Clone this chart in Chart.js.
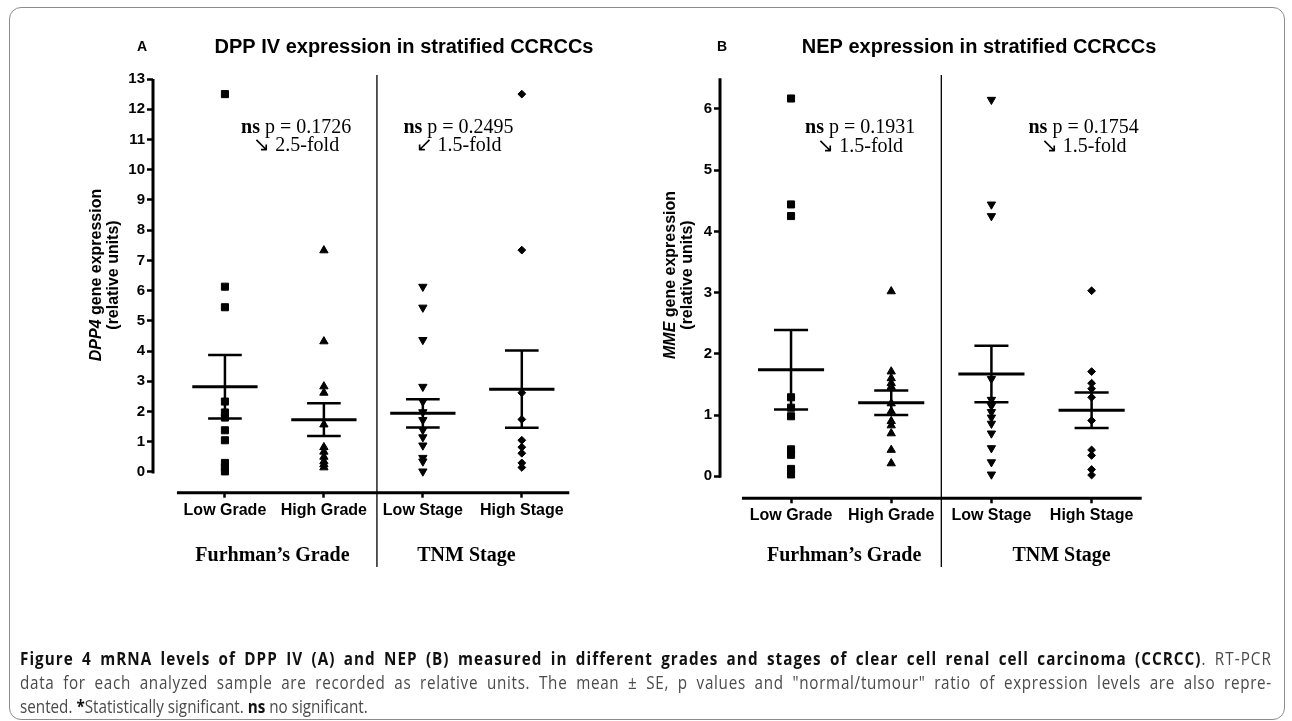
<!DOCTYPE html>
<html>
<head>
<meta charset="utf-8">
<script src="https://cdn.jsdelivr.net/npm/chart.js@4.4.1/dist/chart.umd.min.js"></script>
<style>
  body { margin: 0; background: #fff; }
  #wrap { position: relative; width: 1292px; height: 721px; overflow: hidden; }
  canvas { position: absolute; left: 0; top: 0; }
  #frame { position: absolute; left: 9px; top: 7px; width: 1274px; height: 711px;
           border: 1px solid #8c8c8c; border-radius: 12px; }
  /* condensed look of the journal caption font */
  #caption { position: absolute; left: 20px; top: 646px; width: 1439px;
             transform: scaleX(0.87); transform-origin: 0 0;
             font-family: "Open Sans", sans-serif; font-size: 17.5px;
             line-height: 24px; color: #4a4a4a; }
  #caption div { text-align: justify; text-align-last: justify; white-space: nowrap; }
  #caption div.l1 { letter-spacing: 1.2px; }
  #caption div.l2 { letter-spacing: 0.8px; }
  #caption div.last { text-align-last: left; }
  #caption b { color: #111; }
</style>
</head>
<body>
<div id="wrap">
  <div id="frame"></div>
  <canvas id="chartA" width="1292" height="721"></canvas>
  <canvas id="chartB" width="1292" height="721"></canvas>
  <div id="caption">
    <div class="l1"><b>Figure 4 mRNA levels of DPP IV (A) and NEP (B) measured in different grades and stages of clear cell renal cell carcinoma (CCRCC)</b>. RT-PCR</div>
    <div class="l2">data for each analyzed sample are recorded as relative units. The mean ± SE, p values and "normal/tumour" ratio of expression levels are also repre-</div>
    <div class="last">sented. <b>*</b>Statistically significant. <b>ns</b> no significant.</div>
  </div>
</div>
<script>
// categories and group labels
const categories = ["Low Grade", "High Grade", "Low Stage", "High Stage"];
const groupLabels = ["Furhman\u2019s Grade", "TNM Stage"];

// panel A: DPP4 relative expression
const dppLowGrade = [12.5, 6.13, 5.45, 2.33, 1.97, 1.8, 1.38, 1.05, 0.3, 0.15, 0.02];
const dppHighGrade = [7.33, 4.32, 2.83, 2.62, 1.57, 0.82, 0.67, 0.5, 0.35, 0.25, 0.15];
const dppLowStage = [6.13, 5.44, 4.37, 2.82, 2.33, 1.98, 1.72, 1.39, 1.15, 0.88, 0.47, 0.35, 0.02];
const dppHighStage = [12.5, 7.34, 2.62, 1.74, 1.05, 0.82, 0.62, 0.3, 0.15];
const dppMean = [2.82, 1.73, 1.94, 2.74];
const dppSE = [1.05, 0.54, 0.47, 1.28];
const dppTicks = [0, 1, 2, 3, 4, 5, 6, 7, 8, 9, 10, 11, 12, 13];
const dppPvalues = ["p = 0.1726", "p = 0.2495"];
const dppFold = ["\u2198 2.5-fold", "\u2199 1.5-fold"];

// panel B: MME relative expression
const mmeLowGrade = [6.17, 4.44, 4.25, 1.29, 1.12, 0.98, 0.44, 0.35, 0.12, 0.03];
const mmeHighGrade = [3.02, 1.71, 1.6, 1.52, 1.46, 1.19, 1.06, 0.9, 0.83, 0.7, 0.43, 0.21];
const mmeLowStage = [6.15, 4.44, 4.25, 1.59, 1.25, 1.15, 1.05, 0.96, 0.86, 0.7, 0.46, 0.23, 0.03];
const mmeHighStage = [3.03, 1.71, 1.52, 1.43, 1.29, 0.91, 0.43, 0.34, 0.11, 0.02];
const mmeMean = [1.74, 1.2, 1.67, 1.08];
const mmeSE = [0.65, 0.2, 0.46, 0.29];
const mmeTicks = [0, 1, 2, 3, 4, 5, 6];
const mmePvalues = ["p = 0.1931", "p = 0.1754"];
const mmeFold = ["\u2198 1.5-fold", "\u2198 1.5-fold"];

const SANS = "'Liberation Sans', Arial, sans-serif";
const SERIF = "'Liberation Serif', 'Times New Roman', serif";

// marker per category: square, triangle, inverted triangle, diamond
const markers = [
    { pointStyle: "rect", rotation: 0, radius: 5 },
    { pointStyle: "triangle", rotation: 0, radius: 4.8 },
    { pointStyle: "triangle", rotation: 180, radius: 4.8 },
    { pointStyle: "rectRot", rotation: 0, radius: 3.9 }
];

// draws text made of several font runs, centred on x
function drawRuns(ctx, runs, x, y) {
    let total = 0;
    runs.forEach(r => { ctx.font = r.font; total += ctx.measureText(r.text).width; });
    let cx = x - total / 2;
    runs.forEach(r => {
        ctx.font = r.font;
        ctx.textAlign = "left";
        ctx.fillText(r.text, cx, y);
        cx += ctx.measureText(r.text).width;
    });
}

const decor = {
    id: "decor",
    afterDatasetsDraw(chart, args, o) {
        const { ctx, chartArea: ca, scales: { x, y } } = chart;
        ctx.save();
        ctx.strokeStyle = "#000";
        ctx.fillStyle = "#000";
        ctx.textBaseline = "middle";

        // axis lines (Prism style, detached)
        ctx.lineWidth = 3;
        ctx.beginPath();
        ctx.moveTo(ca.left, y.getPixelForValue(0) + 1.5);
        ctx.lineTo(ca.left, y.getPixelForValue(o.yTop));
        ctx.stroke();
        ctx.beginPath();
        ctx.moveTo(x.getPixelForValue(o.xStart), ca.bottom);
        ctx.lineTo(ca.right, ca.bottom);
        ctx.stroke();

        // grade / stage divider
        ctx.lineWidth = 1.3;
        const dx = x.getPixelForValue(o.divider);
        ctx.beginPath();
        ctx.moveTo(dx, o.dividerTop);
        ctx.lineTo(dx, o.dividerBottom);
        ctx.stroke();

        // group labels
        ctx.font = "bold 20px " + SERIF;
        ctx.textAlign = "center";
        groupLabels.forEach((g, i) => ctx.fillText(g, x.getPixelForValue(o.groupX[i]), o.groupY));

        // statistics annotations
        o.notes.forEach(n => {
            const px = x.getPixelForValue(n.x);
            drawRuns(ctx, [
                { text: "ns", font: "bold 20px " + SERIF },
                { text: " " + n.p, font: "20px " + SERIF }
            ], px, y.getPixelForValue(n.y1));
            drawRuns(ctx, [{ text: n.fold, font: "20px " + SERIF }], px, y.getPixelForValue(n.y2));
        });

        // panel letter and title
        ctx.textAlign = "center";
        ctx.font = "bold 14px " + SANS;
        ctx.fillText(o.letter, o.letterX, o.titleY);
        ctx.font = "bold 20px " + SANS;
        ctx.fillText(o.title, o.titleX, o.titleY);

        // rotated y axis title
        ctx.translate(ca.left + o.yTitleDx, o.yTitleY);
        ctx.rotate(-Math.PI / 2);
        drawRuns(ctx, [
            { text: o.gene, font: "italic bold 16px " + SANS },
            { text: " gene expression", font: "bold 16px " + SANS }
        ], 0, -17);
        drawRuns(ctx, [{ text: "(relative units)", font: "bold 16px " + SANS }], 0, 0);
        ctx.restore();
    }
};

function makePanel(id, groups, means, ses, yTicks, cfg) {
    const datasets = groups.map((vals, i) => ({
        data: vals.map(v => ({ x: i, y: v })),
        pointStyle: markers[i].pointStyle,
        rotation: markers[i].rotation,
        pointRadius: markers[i].radius,
        backgroundColor: "#000",
        borderColor: "#000",
        borderWidth: 1,
        order: 2
    }));
    const meanData = [];
    const seData = [];
    means.forEach((m, i) => {
        const hi = m + ses[i], lo = m - ses[i];
        meanData.push({ x: i - 0.33, y: m }, { x: i + 0.33, y: m }, { x: i, y: null });
        seData.push(
            { x: i - 0.17, y: hi }, { x: i + 0.17, y: hi }, { x: i, y: null },
            { x: i, y: hi }, { x: i, y: lo }, { x: i, y: null },
            { x: i - 0.17, y: lo }, { x: i + 0.17, y: lo }, { x: i, y: null }
        );
    });
    datasets.push({ data: meanData, showLine: true, pointRadius: 0, borderColor: "#000", borderWidth: 3, spanGaps: false, order: 1 });
    datasets.push({ data: seData, showLine: true, pointRadius: 0, borderColor: "#000", borderWidth: 2.5, spanGaps: false, order: 1 });

    return new Chart(document.getElementById(id), {
        type: "scatter",
        data: { datasets },
        options: {
            responsive: false,
            animation: false,
            devicePixelRatio: 1,
            layout: { padding: cfg.padding },
            plugins: { legend: { display: false }, tooltip: { enabled: false }, decor: cfg.decor },
            scales: {
                x: {
                    type: "linear",
                    min: cfg.xMin, max: cfg.xMax,
                    border: { display: false },
                    grid: { drawOnChartArea: false, drawTicks: true, tickLength: 5, tickWidth: 2.5, tickColor: "#000" },
                    ticks: {
                        autoSkip: false, maxRotation: 0, padding: 3, color: "#000",
                        font: { family: SANS, size: 16, weight: "bold" },
                        callback: v => categories[v]
                    },
                    afterBuildTicks: s => { s.ticks = categories.map((c, i) => ({ value: i })); },
                    afterFit: s => { s.height = 30; }
                },
                y: {
                    min: cfg.yMin, max: cfg.yMax,
                    border: { display: false },
                    grid: { drawOnChartArea: false, drawTicks: true, tickLength: 6, tickWidth: 2.5, tickColor: "#000" },
                    ticks: {
                        padding: 2, color: "#000",
                        font: { family: SANS, size: 15, weight: "bold" }
                    },
                    afterBuildTicks: s => { s.ticks = yTicks.map(v => ({ value: v })); },
                    afterFit: s => { s.width = 40; }
                }
            }
        },
        plugins: [decor]
    });
}

makePanel("chartA",
    [dppLowGrade, dppHighGrade, dppLowStage, dppHighStage], dppMean, dppSE, dppTicks, {
        padding: { left: 113, top: 79, right: 722.7, bottom: 198.3 },
        xMin: -0.727, xMax: 3.48, yMin: -0.685, yMax: 13,
        decor: {
            yTop: 13, xStart: -0.485, divider: 1.536, dividerTop: 75, dividerBottom: 567,
            groupX: [0.48, 2.44], groupY: 556,
            notes: [
                { x: 0.72, y1: 11.38, y2: 10.78, p: dppPvalues[0], fold: dppFold[0] },
                { x: 2.36, y1: 11.38, y2: 10.78, p: dppPvalues[1], fold: dppFold[1] }
            ],
            letter: "A", letterX: 142, title: "DPP IV expression in stratified CCRCCs", titleX: 404, titleY: 47,
            gene: "DPP4", yTitleDx: -39, yTitleY: 275
        }
    });

makePanel("chartB",
    [mmeLowGrade, mmeHighGrade, mmeLowStage, mmeHighStage], mmeMean, mmeSE, mmeTicks, {
        padding: { left: 680, top: 78.3, right: 150.3, bottom: 192.7 },
        xMin: -0.709, xMax: 3.5, yMin: -0.36, yMax: 6.5,
        decor: {
            yTop: 6.5, xStart: -0.49, divider: 1.5, dividerTop: 75, dividerBottom: 567,
            groupX: [0.53, 2.7], groupY: 556,
            notes: [
                { x: 0.69, y1: 5.69, y2: 5.39, p: mmePvalues[0], fold: mmeFold[0] },
                { x: 2.92, y1: 5.69, y2: 5.39, p: mmePvalues[1], fold: mmeFold[1] }
            ],
            letter: "B", letterX: 722, title: "NEP expression in stratified CCRCCs", titleX: 979, titleY: 47,
            gene: "MME", yTitleDx: -32, yTitleY: 275
        }
    });
</script>
</body>
</html>
